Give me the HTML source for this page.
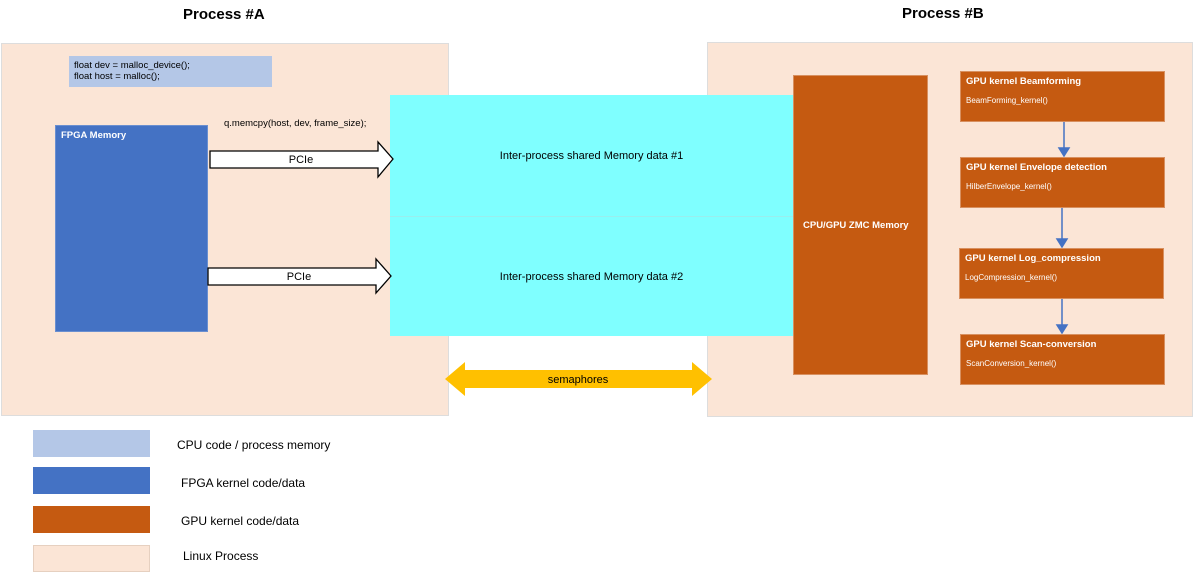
<!DOCTYPE html>
<html><head><style>
body{margin:0;width:1193px;height:574px;background:#fff;position:relative;font-family:"Liberation Sans",sans-serif;overflow:hidden}
div{position:absolute;box-sizing:border-box}
.t{font-size:11px;color:#000}
.k{background:#c55a11;border:1px solid #d89060;color:#fff;font-size:9.5px;font-weight:bold;padding:4px 5px}
.k span{display:block;font-weight:normal;font-size:8px;margin-top:9px}
</style></head><body>
<div style="left:183px;top:6px;font-size:15px;font-weight:bold">Process #A</div>
<div style="left:902px;top:5px;font-size:15px;font-weight:bold">Process #B</div>
<div style="left:1px;top:43px;width:448px;height:373px;background:#fbe5d6;border:1px solid #ddd"></div>
<div style="left:707px;top:42px;width:486px;height:375px;background:#fbe5d6;border:1px solid #ddd"></div>
<div style="left:69px;top:56px;width:203px;height:31px;background:#b4c7e7;font-size:9.5px;padding:4px 5px;line-height:11px">float dev = malloc_device();<br>float host = malloc();</div>
<div style="left:55px;top:125px;width:153px;height:207px;background:#4472c4;border:1px solid #6a8fd0;color:#fff;font-size:9.5px;font-weight:bold;padding:4px 5px">FPGA Memory</div>
<div class="t" style="left:224px;top:118px;font-size:9.5px">q.memcpy(host, dev, frame_size);</div>
<div style="left:390px;top:95px;width:403px;height:122px;background:#7fffff;border-bottom:1px solid #9ee;display:flex;align-items:center;justify-content:center;font-size:11px">Inter-process shared Memory data #1</div>
<div style="left:390px;top:217px;width:403px;height:119px;background:#7fffff;display:flex;align-items:center;justify-content:center;font-size:11px">Inter-process shared Memory data #2</div>
<svg style="position:absolute;left:0;top:0" width="1193" height="574">
<polygon points="210,151 378,151 378,142 393,159 378,177 378,168 210,168" fill="#fff" stroke="#000" stroke-width="1.3"/>
<text x="301" y="163" font-size="11" text-anchor="middle" font-family="Liberation Sans">PCIe</text>
<polygon points="208,268 376,268 376,259 391,276 376,293 376,285 208,285" fill="#fff" stroke="#000" stroke-width="1.3"/>
<text x="299" y="280" font-size="11" text-anchor="middle" font-family="Liberation Sans">PCIe</text>
<polygon points="445,379 465,362 465,370 692,370 692,362 712,379 692,396 692,388 465,388 465,396" fill="#ffc000"/>
<text x="578" y="383" font-size="11" text-anchor="middle" font-family="Liberation Sans">semaphores</text>
<g stroke="#4472c4" stroke-width="1.5" fill="#4472c4">
<line x1="1064" y1="122" x2="1064" y2="150"/><polygon points="1059,148 1069,148 1064,156"/>
<line x1="1062" y1="208" x2="1062" y2="241"/><polygon points="1057,239 1067,239 1062,247"/>
<line x1="1062" y1="299" x2="1062" y2="327"/><polygon points="1057,325 1067,325 1062,333"/>
</g>
</svg>
<div style="left:793px;top:75px;width:135px;height:300px;background:#c55a11;border:1px solid #d89060;color:#fff;font-size:9.5px;font-weight:bold;padding-left:9px;padding-top:144px">CPU/GPU ZMC Memory</div>
<div class="k" style="left:960px;top:71px;width:205px;height:51px">GPU kernel Beamforming<span>BeamForming_kernel()</span></div>
<div class="k" style="left:960px;top:157px;width:205px;height:51px">GPU kernel Envelope detection<span>HilberEnvelope_kernel()</span></div>
<div class="k" style="left:959px;top:248px;width:205px;height:51px">GPU kernel Log_compression<span>LogCompression_kernel()</span></div>
<div class="k" style="left:960px;top:334px;width:205px;height:51px">GPU kernel Scan-conversion<span>ScanConversion_kernel()</span></div>
<div style="left:33px;top:430px;width:117px;height:27px;background:#b4c7e7"></div>
<div style="left:33px;top:467px;width:117px;height:27px;background:#4472c4"></div>
<div style="left:33px;top:506px;width:117px;height:27px;background:#c55a11"></div>
<div style="left:33px;top:545px;width:117px;height:27px;background:#fbe5d6;border:1px solid #e6d0c0"></div>
<div style="left:177px;top:438px;font-size:12px">CPU code / process memory</div>
<div style="left:181px;top:476px;font-size:12px">FPGA kernel code/data</div>
<div style="left:181px;top:514px;font-size:12px">GPU kernel code/data</div>
<div style="left:183px;top:549px;font-size:12px">Linux Process</div>
</body></html>
